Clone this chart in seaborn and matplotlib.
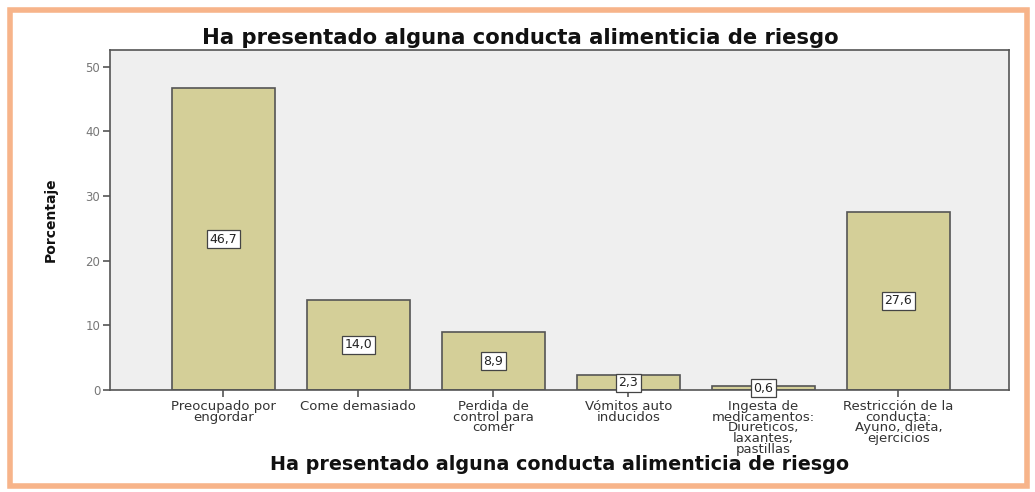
import matplotlib
matplotlib.use("Agg")
import matplotlib.pyplot as plt
import seaborn as sns
import pandas as pd
from matplotlib.patches import Rectangle

categories = [
    "Preocupado por\nengordar",
    "Come demasiado",
    "Perdida de\ncontrol para\ncomer",
    "Vómitos auto\ninducidos",
    "Ingesta de\nmedicamentos:\nDiureticos,\nlaxantes,\npastillas",
    "Restricción de la\nconducta:\nAyuno, dieta,\nejercicios",
]
values = [46.7, 14.0, 8.9, 2.3, 0.6, 27.6]
value_labels = ["46,7", "14,0", "8,9", "2,3", "0,6", "27,6"]
yticks = [0, 10, 20, 30, 40, 50]
title = "Ha presentado alguna conducta alimenticia de riesgo"

sns.set_style("white")
plt.rcParams['font.family'] = ['DejaVu Sans']

df = pd.DataFrame({"cat": categories, "val": values})

fig = plt.figure(figsize=(10.35, 4.92), dpi=100)
ax = fig.add_axes([0.1063, 0.2073, 0.975 - 0.1063, 0.8984 - 0.2073])
ax.set_facecolor("#efefef")

sns.barplot(data=df, x="cat", y="val", order=categories, color="#d4cf98",
            saturation=1, width=0.76, edgecolor="#555555", linewidth=1.2, ax=ax)

for i, (v, lab) in enumerate(zip(values, value_labels)):
    ax.text(i, v / 2, lab, ha="center", va="center", fontsize=9, color="#222222",
            bbox=dict(boxstyle="square,pad=0.2", facecolor="white", edgecolor="#444444", linewidth=0.9))

ax.set_xlim(-0.84, 5.82)
ax.set_ylim(0, 52.6)
ax.set_yticks(yticks)
ax.set_yticklabels([str(t) for t in yticks], fontsize=8.5, color="#777777")
ax.set_xticklabels(categories, fontsize=9.5, color="#333333", linespacing=0.78, va="top")
ax.tick_params(axis="both", direction="out", length=5, width=1.2, color="#555555", pad=2,
               bottom=True, left=True)
for sp in ax.spines.values():
    sp.set_visible(True)
    sp.set_color("#555555")
    sp.set_linewidth(1.2)

ax.set_xlabel(title, fontsize=13.8, fontweight="bold", color="#111111")
ax.xaxis.set_label_coords(0.5, -0.22)
ax.xaxis.label.set_va("center")
ax.set_ylabel("Porcentaje", fontsize=10, fontweight="bold", labelpad=20, color="#111111")
ax.set_title(title, fontsize=15.2, fontweight="bold", pad=4, color="#111111", x=0.456)

border = Rectangle((10 / 1035, 6 / 492), 1017 / 1035, 476 / 492, transform=fig.transFigure,
                   fill=False, edgecolor="#f7b48a", linewidth=4, zorder=10)
fig.patches.append(border)

fig.savefig("out.png", dpi=100, facecolor="white")
